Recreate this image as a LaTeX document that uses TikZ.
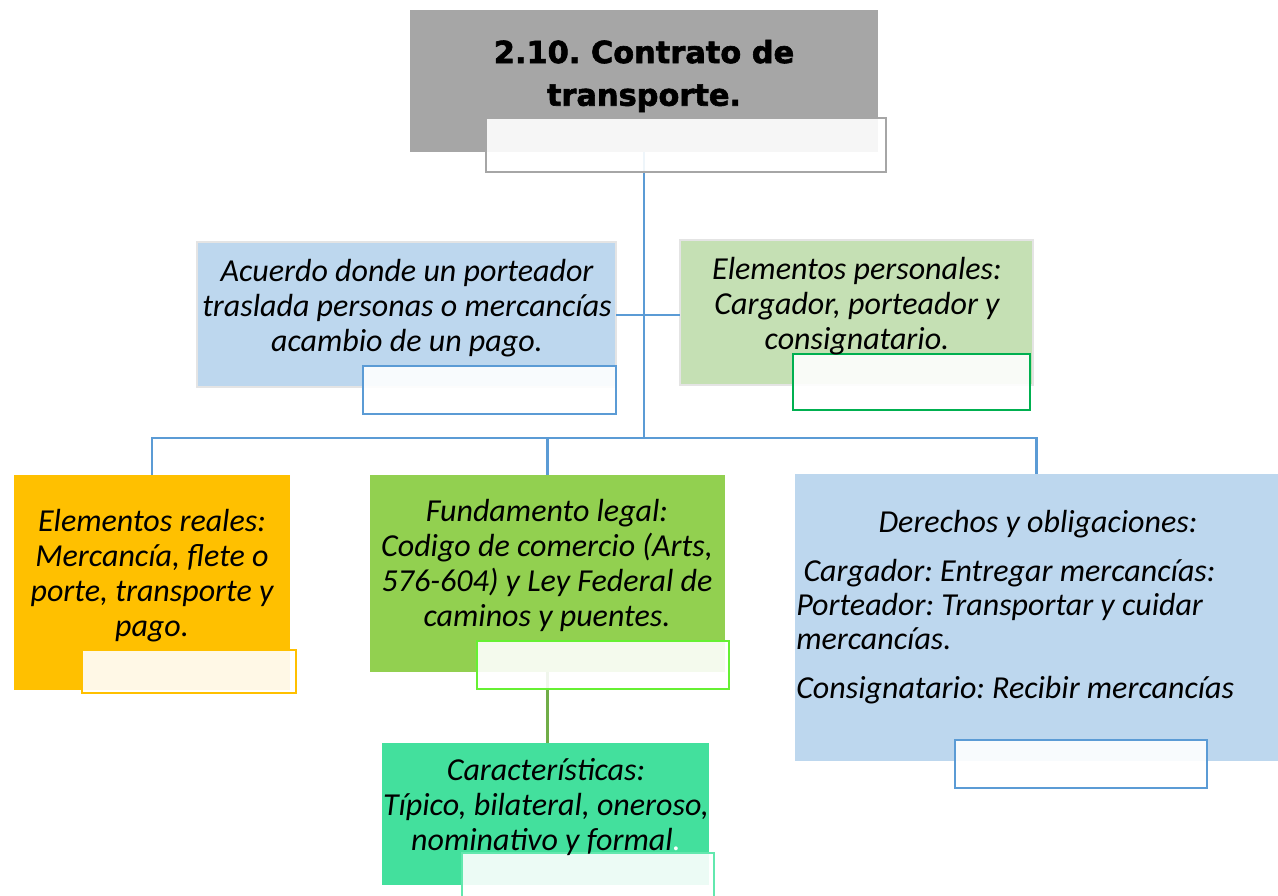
\documentclass[tikz,border=0pt]{standalone}
\usepackage{fontspec}
\setmainfont{Carlito}
\newfontfamily\titlefont{DejaVu Sans}[BoldFeatures={FakeBold=2}]
\usetikzlibrary{fit}
\frenchspacing

\definecolor{titlegray}{HTML}{A6A6A6}
\definecolor{paleblue}{HTML}{BDD7EE}
\definecolor{linkblue}{HTML}{5B9BD5}
\definecolor{palegreen}{HTML}{C5E0B4}
\definecolor{tagdkgreen}{HTML}{00B050}
\definecolor{amber}{HTML}{FFC000}
\definecolor{leaf}{HTML}{92D050}
\definecolor{tagleaf}{HTML}{66F033}
\definecolor{mint}{HTML}{43E09D}
\definecolor{tagmint}{HTML}{62E8AE}
\definecolor{stemgreen}{HTML}{70AD47}
\definecolor{rimgray}{HTML}{E4E4E4}

\begin{document}
\begin{tikzpicture}[x=0.75pt,y=-0.75pt,
    box/.style={inner sep=0pt,outer sep=0pt},
    tag/.style={inner sep=0pt,outer sep=0pt,fill=white,fill opacity=0.9,line width=1.5pt},
    link/.style={draw=linkblue,line width=2pt},
    txt/.style={font=\fontsize{24}{26.25}\selectfont\itshape,align=center,inner sep=0pt}]
    \useasboundingbox[fill=white] (0,0) rectangle (1278,896);

    % main boxes
    \node[box,fill=titlegray,fit={(410,10) (878,152)}] (title) {};
    \node[box,fill=paleblue,draw=rimgray,line width=1.5pt,fit={(197,242) (616,387)}] (acuerdo) {};
    \node[box,fill=palegreen,draw=rimgray,line width=1.5pt,fit={(680,240) (1033,385)}] (personal) {};
    \node[box,fill=amber,fit={(14,475) (290,690)}] (reales) {};
    \node[box,fill=leaf,fit={(370,475) (725,672)}] (legal) {};
    \node[box,fill=mint,fit={(382,743) (709,885)}] (caract) {};
    \node[box,fill=paleblue,fit={(795,474) (1278,761)}] (derechos) {};

    % connectors
    \coordinate (mid) at (644,315);
    \coordinate (hub) at (644,438);
    \draw[link] (title.south) -- (hub);
    \draw[link] (acuerdo.east |- mid) -- (personal.west |- mid);
    \draw[link] (reales.north) |- (hub) -| (derechos.north);
    \draw[link] (legal.north) -- (legal.north |- hub);
    \draw[draw=stemgreen,line width=2pt] (legal.south) -- (legal.south |- caract.north);

    % tags
    \node[tag,draw=titlegray,fit={(486,118) (886,172)}] (title-tag) {};
    \node[tag,draw=linkblue,fit={(363,366) (616,414)}] (acuerdo-tag) {};
    \node[tag,draw=tagdkgreen,fit={(793,354) (1030,410)}] (personal-tag) {};
    \node[tag,draw=amber,fit={(82,650) (296,693)}] (reales-tag) {};
    \node[tag,draw=tagleaf,fit={(477,641) (729,689)}] (legal-tag) {};
    \node[tag,draw=tagmint,fit={(462,853) (714,900)}] (caract-tag) {};
    \node[tag,draw=linkblue,fit={(955,740) (1207,788)}] (derechos-tag) {};

    % texts
    \node[align=center,font=\titlefont\bfseries\fontsize{22.8}{32}\selectfont] (title-t) at (644,76) {2.10. Contrato de\\transporte.};
    \node[txt] (acuerdo-t) at (407,308) {Acuerdo donde un porteador\\traslada personas o mercancías\\acambio de un pago.};
    \node[txt] (personal-t) at (857,306) {Elementos personales:\\Cargador, porteador y\\consignatario.};
    \node[txt] (reales-t) at (152,576) {Elementos reales:\\Mercancía, flete o\\porte, transporte y\\pago.};
    \node[txt] (legal-t) at (547,565) {Fundamento legal:\\Codigo de comercio (Arts,\\576-604) y Ley Federal de\\caminos y puentes.};
    \node[txt] (caract-t) at (546,807) {Características:\\Típico, bilateral, oneroso,\\nominativo y formal{\color{white}.}};
    \node[txt] (derechos-h) at (1038,524) {Derechos y obligaciones:};
    \node[txt,align=left,anchor=north west,font=\fontsize{24}{25.5}\selectfont\itshape] (derechos-t) at (796,559)
      {\ Cargador: Entregar mercancías:\\Porteador: Transportar y cuidar\\mercancías.\\[11pt]Consignatario: Recibir mercancías};
\end{tikzpicture}
\end{document}
